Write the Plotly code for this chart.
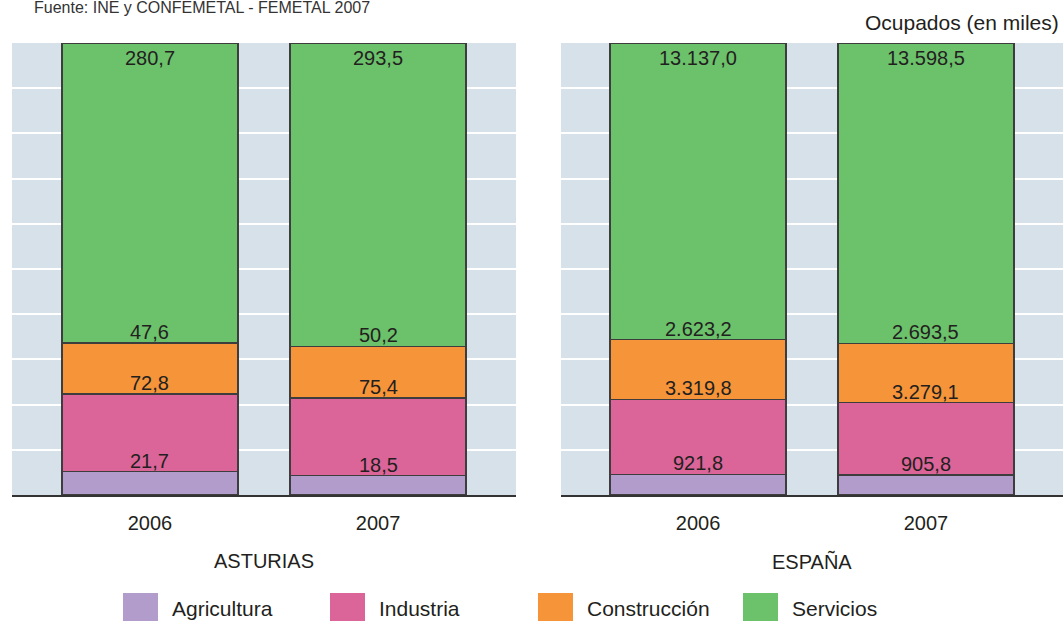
import plotly.graph_objects as go

# ---------------- data ----------------
years = ["2006", "2007"]
regions = ["ASTURIAS", "ESPAÑA"]
sectors = ["Agricultura", "Industria", "Construcción", "Servicios"]

agricultura_asturias = [21.7, 18.5]
industria_asturias = [72.8, 75.4]
construccion_asturias = [47.6, 50.2]
servicios_asturias = [280.7, 293.5]

agricultura_espana = [921.8, 905.8]
industria_espana = [3319.8, 3279.1]
construccion_espana = [2623.2, 2693.5]
servicios_espana = [13137.0, 13598.5]

colors = ["#b19ccb", "#db6598", "#f59438", "#6cc16b"]

source_text = "Fuente: INE y CONFEMETAL - FEMETAL 2007"
unit_text = "Ocupados (en miles)"

# --------------------------------------
FONT = "Liberation Sans, Arial, sans-serif"
TXT = "#231f20"
W, H = 1063, 621
T, B = 43, 126
PH = H - T - B


def py(ypx):
    return (H - B - ypx) / PH


def fmt(v):
    s = f"{v:,.1f}"
    return s.replace(",", "X").replace(".", ",").replace("X", ".")


region_data = [
    [agricultura_asturias, industria_asturias, construccion_asturias, servicios_asturias],
    [agricultura_espana, industria_espana, construccion_espana, servicios_espana],
]

fig = go.Figure()
annotations = []
xs = list(range(len(years)))

for r, series in enumerate(region_data):
    xa = "x" if r == 0 else "x2"
    ya = "y" if r == 0 else "y2"
    totals = [sum(s[i] for s in series) for i in xs]
    cum = [0.0 for _ in xs]
    for k, (name, vals) in enumerate(zip(sectors, series)):
        fig.add_trace(go.Bar(
            x=xs, y=vals, name=name, xaxis=xa, yaxis=ya,
            width=0.772, marker=dict(color=colors[k], line=dict(color="#3d3d3d", width=1.2)),
            showlegend=False, hoverinfo="skip",
        ))
        for i in xs:
            cum[i] += vals[i]
            top = cum[i] / totals[i] * 100
            if k < len(sectors) - 1:
                annotations.append(dict(
                    x=i, y=top, xref=xa, yref=ya, text=fmt(vals[i]), showarrow=False,
                    yanchor="bottom", yshift=-2, font=dict(size=20, color=TXT, family=FONT)))
            else:
                annotations.append(dict(
                    x=i, y=100, xref=xa, yref=ya, text=fmt(vals[i]), showarrow=False,
                    yanchor="top", yshift=-2, font=dict(size=20, color=TXT, family=FONT)))
    annotations.append(dict(
        x=0.5, y=py(561), xref=f"{xa} domain", yref="paper", text=regions[r],
        showarrow=False, yanchor="middle", font=dict(size=20, color=TXT, family=FONT)))

# legend drawn with shapes + text
shapes = []
leg_sq_x = [123, 330, 538, 743]
for k, name in enumerate(sectors):
    shapes.append(dict(type="rect", xref="paper", yref="paper",
                       x0=leg_sq_x[k] / W, x1=(leg_sq_x[k] + 35) / W,
                       y0=py(621), y1=py(593), fillcolor=colors[k], line=dict(width=0)))
    annotations.append(dict(x=(leg_sq_x[k] + 47) / W, y=py(608), xref="paper", yref="paper",
                            text=name, showarrow=False, xanchor="left", yanchor="middle",
                            font=dict(size=21, color=TXT, family=FONT)))

annotations.append(dict(x=32 / W, y=py(8), xref="paper", yref="paper", text=source_text,
                        showarrow=False, xanchor="left", yanchor="middle",
                        font=dict(size=16, color="#333333", family=FONT)))
annotations.append(dict(x=1061 / W, y=py(23), xref="paper", yref="paper", text=unit_text,
                        showarrow=False, xanchor="right", yanchor="middle",
                        font=dict(size=21, color=TXT, family=FONT)))

xaxis_common = dict(
    tickmode="array", tickvals=xs, ticktext=years, showgrid=False, zeroline=False,
    showline=True, linecolor="#333333", linewidth=2, ticks="", ticklabelstandoff=9,
    tickfont=dict(size=20, color=TXT, family=FONT), fixedrange=True,
)
yaxis_common = dict(
    range=[0, 100], dtick=10, showgrid=True, gridcolor="white", gridwidth=1.6,
    zeroline=False, showticklabels=False, ticks="", showline=False, fixedrange=True,
)

fig.update_layout(
    width=W, height=H,
    margin=dict(l=0, r=0, t=T, b=B, pad=0),
    barmode="stack", barnorm="percent",
    paper_bgcolor="white", plot_bgcolor="#d7e1ea",
    xaxis=dict(domain=[12 / W, 516 / W], range=[-0.605, 1.605], anchor="y", **xaxis_common),
    xaxis2=dict(domain=[561 / W, 1.0], range=[-0.601, 1.601], anchor="y2", **xaxis_common),
    yaxis=dict(anchor="x", **yaxis_common),
    yaxis2=dict(anchor="x2", **yaxis_common),
    annotations=annotations, shapes=shapes,
    font=dict(family=FONT, color=TXT),
    showlegend=False,
)

fig.write_html("out.html")
